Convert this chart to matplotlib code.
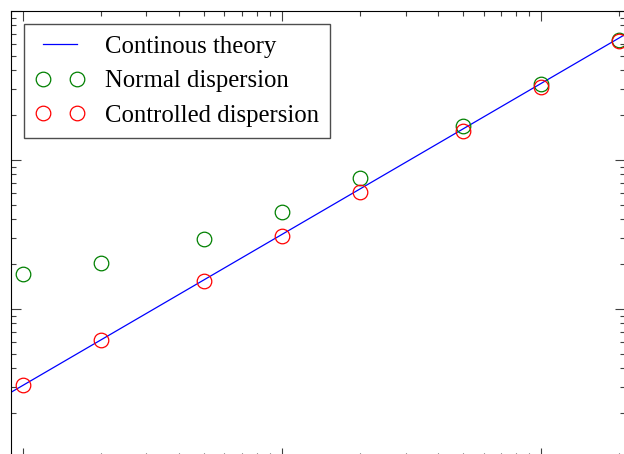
import matplotlib.pyplot as plt
import numpy as np

# sample sizes
x = [1, 2, 5, 10, 20, 50, 100, 200]
normal = [1.73, 2.03, 2.95, 4.48, 7.54, 17.0, 32.4, 63.5]
controlled = [0.309, 0.616, 1.54, 3.07, 6.13, 15.6, 31.0, 62.9]
theory_x = [0.9, 211]
theory_y = [0.276, 69.5]

plt.rcParams['font.family'] = ['Liberation Serif', 'DejaVu Serif']

fig = plt.figure(figsize=(6.24, 4.54), dpi=100)
ax = fig.add_axes([11 / 624, -4 / 454, 614 / 624, 447 / 454])

ax.plot(theory_x, theory_y, color='#0000ff', lw=0.9, label="Continous theory")
ax.plot(x, normal, 'o', mfc='none', mec='#008000', ms=10.5, mew=0.9,
        label="Normal dispersion")
ax.plot(x, controlled, 'o', mfc='none', mec='#ff0000', ms=10.5, mew=0.9,
        label="Controlled dispersion")

ax.set_xscale('log')
ax.set_yscale('log')
ax.set_xlim(0.9, 211)
ax.set_ylim(0.1, 100)

ax.tick_params(which='both', direction='in', top=True, right=True,
               labelbottom=False, labelleft=False, width=0.8, color='0.25')
ax.tick_params(which='major', length=7.2)
ax.tick_params(which='minor', length=3.6)
for s in ax.spines.values():
    s.set_linewidth(0.8)

leg = ax.legend(loc='upper left', bbox_to_anchor=(24 / 624, 1 - 24 / 454),
                bbox_transform=fig.transFigure, borderaxespad=0,
                numpoints=2, fontsize=17.8, handlelength=2.0, handletextpad=0.8,
                labelspacing=0.5, borderpad=0.46, fancybox=False, framealpha=1)
leg.get_frame().set_edgecolor('0.3')
leg.get_frame().set_linewidth(1.0)

fig.savefig('out.png', dpi=100)
